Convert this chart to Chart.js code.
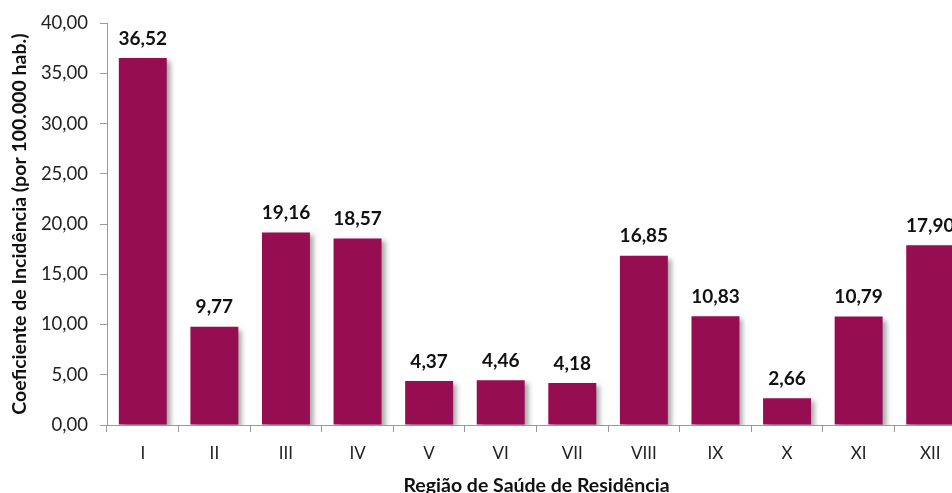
<!DOCTYPE html>
<html>
<head>
<meta charset="utf-8">
<script src="https://cdn.jsdelivr.net/npm/chart.js@4/dist/chart.umd.min.js"></script>
<style>
  html, body { margin: 0; padding: 0; background: #fff; overflow: hidden; }
  #wrap { width: 952px; height: 493px; overflow: hidden; }
  #box { width: 976px; height: 497px; }
</style>
</head>
<body>
<div id="wrap"><div id="box"><canvas id="incChart"></canvas></div></div>
<script>
const regions = ['I', 'II', 'III', 'IV', 'V', 'VI', 'VII', 'VIII', 'IX', 'X', 'XI', 'XII'];
const rates = [36.52, 9.77, 19.16, 18.57, 4.37, 4.46, 4.18, 16.85, 10.83, 2.66, 10.79, 17.90];
const yTicks = [0, 5, 10, 15, 20, 25, 30, 35, 40];

const fmt = v => v.toFixed(2).replace('.', ',');
const FONT = 'Lato, "Open Sans", sans-serif';

const shadowPlugin = {
  id: 'barShadow',
  beforeDatasetsDraw(chart) {
    const c = chart.ctx;
    c.save();
    c.shadowColor = 'rgba(0,0,0,0.35)';
    c.shadowOffsetX = 4;
    c.shadowOffsetY = 3;
    c.shadowBlur = 5;
  },
  afterDatasetsDraw(chart) {
    chart.ctx.restore();
  }
};

const valueLabels = {
  id: 'valueLabels',
  afterDatasetsDraw(chart) {
    const c = chart.ctx;
    const meta = chart.getDatasetMeta(0);
    c.save();
    c.font = 'bold 19px ' + FONT;
    c.fillStyle = '#111';
    c.textAlign = 'center';
    c.textBaseline = 'bottom';
    meta.data.forEach((bar, i) => {
      c.fillText(fmt(rates[i]), bar.x, bar.y - 10);
    });
    c.restore();
  }
};

new Chart(document.getElementById('incChart').getContext('2d'), {
  type: 'bar',
  data: {
    labels: regions,
    datasets: [{
      data: rates,
      backgroundColor: '#960D52',
      categoryPercentage: 1,
      barPercentage: 0.67
    }]
  },
  options: {
    responsive: true,
    maintainAspectRatio: false,
    animation: false,
    layout: { padding: { top: 20, right: 10, left: 0, bottom: 0 } },
    plugins: { legend: { display: false }, tooltip: { enabled: false } },
    scales: {
      y: {
        min: 0,
        max: 40,
        afterBuildTicks: s => { s.ticks = yTicks.map(v => ({ value: v })); },
        afterFit: s => { s.width = 107; },
        ticks: {
          callback: v => fmt(v),
          font: { family: FONT, size: 18.5 },
          color: '#222',
          padding: 12
        },
        grid: { drawOnChartArea: false, drawTicks: true, tickLength: 7, color: '#999' },
        border: { color: '#999', width: 1 },
        title: {
          display: true,
          text: 'Coeficiente de Incidência (por 100.000 hab.)',
          font: { family: FONT, size: 19.5, weight: 'bold' },
          color: '#111',
          padding: { top: 8, bottom: 0 }
        }
      },
      x: {
        afterFit: s => { s.height = 72; },
        ticks: {
          font: { family: FONT, size: 17 },
          color: '#222',
          padding: 11
        },
        grid: { drawOnChartArea: false, drawTicks: true, tickLength: 7, color: '#999', offset: true },
        border: { color: '#999', width: 1 },
        title: {
          display: true,
          text: 'Região de Saúde de Residência',
          font: { family: FONT, size: 19.5, weight: 'bold' },
          color: '#111',
          padding: { top: 0, bottom: 0 }
        }
      }
    }
  },
  plugins: [shadowPlugin, valueLabels]
});
</script>
</body>
</html>
